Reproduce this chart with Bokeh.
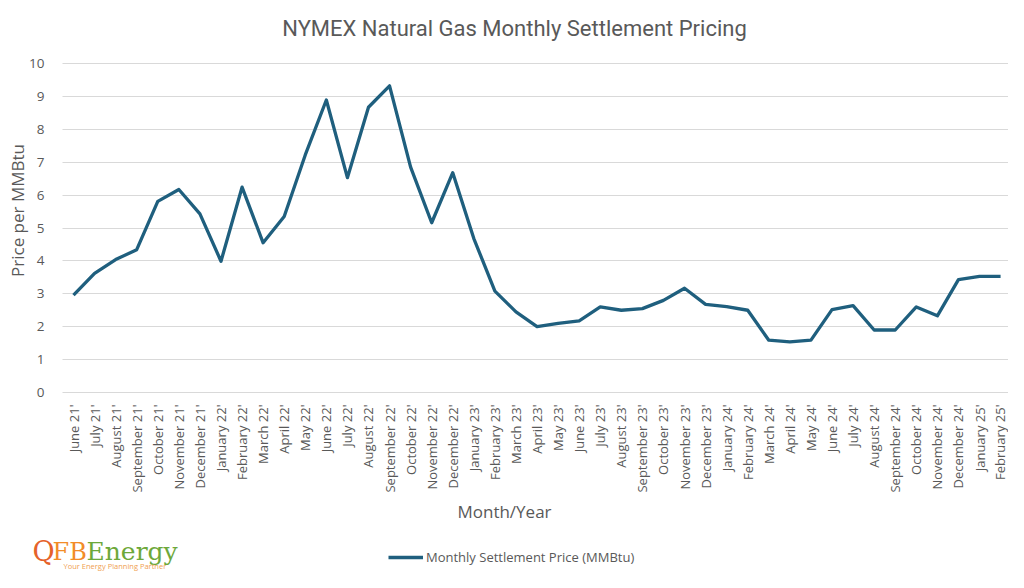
import math
from bokeh.plotting import figure
from bokeh.models import (Range1d, FixedTicker, Label, Legend, LegendItem, ColumnDataSource)
from bokeh.embed import file_html
from bokeh.resources import INLINE

months = ["June 21'", "July 21'", "August 21'", "September 21'", "October 21'", "November 21'",
          "December 21'", "January 22'", "February 22'", "March 22'", "April 22'", "May 22'",
          "June 22'", "July 22'", "August 22'", "September 22'", "October 22'", "November 22'",
          "December 22'", "January 23'", "February 23'", "March 23'", "April 23'", "May 23'",
          "June 23'", "July 23'", "August 23'", "September 23'", "October 23'", "November 23'",
          "December 23'", "January 24'", "February 24'", "March 24'", "April 24'", "May 24'",
          "June 24'", "July 24'", "August 24'", "September 24'", "October 24'", "November 24'",
          "December 24'", "January 25'", "February 25'"]

prices = [2.96, 3.62, 4.04, 4.34, 5.81, 6.17, 5.43, 3.99, 6.24, 4.55, 5.35, 7.22,
          8.89, 6.53, 8.67, 9.32, 6.85, 5.16, 6.68, 4.68, 3.08, 2.45, 2.00, 2.10,
          2.18, 2.60, 2.50, 2.55, 2.80, 3.17, 2.68, 2.61, 2.50, 1.59, 1.54, 1.59,
          2.52, 2.64, 1.90, 1.90, 2.60, 2.33, 3.43, 3.53, 3.53]

y_ticks = [0, 1, 2, 3, 4, 5, 6, 7, 8, 9, 10]

FONT = "Open Sans"
GRAY = "#595959"
LINE = "#1F5F7E"

W, H = 1008, 572
# plot area (pixels): left 62, top 63, value-0 line at 392; 21.07 px per month, 32.9 px per unit
PX_X, PX_Y = 21.07, 32.9
X0 = -73 / PX_X
Y0 = -(H - 392) / PX_Y
x_start, x_end = X0, X0 + W / PX_X
y_start, y_end = Y0, Y0 + H / PX_Y
plot_left = X0 + 62 / PX_X

idx = list(range(len(months)))
src = ColumnDataSource(data=dict(x=idx, y=prices, month=months))

p = figure(width=W, height=H, output_backend="svg", toolbar_location=None,
           x_range=Range1d(x_start, x_end), y_range=Range1d(y_start, y_end),
           min_border=0, min_border_left=0, min_border_right=0, min_border_top=0,
           min_border_bottom=0)
p.outline_line_color = None
p.background_fill_color = "white"
p.border_fill_color = "white"

r = p.line("x", "y", source=src, line_color=LINE, line_width=3.3, line_join="round")

# axes drawn at fixed positions inside the canvas
p.xaxis.fixed_location = 0
p.xaxis.ticker = FixedTicker(ticks=idx)
p.xaxis.major_label_overrides = {i: m for i, m in enumerate(months)}
p.xaxis.major_label_orientation = math.pi / 2
p.xaxis.major_label_text_font = FONT
p.xaxis.major_label_text_font_size = "13px"
p.xaxis.major_label_text_color = GRAY
p.xaxis.major_label_standoff = 6
p.xaxis.axis_line_color = None
p.xaxis.major_tick_line_color = None
p.xaxis.minor_tick_line_color = None
p.xaxis.axis_label = "Month/Year"
p.xaxis.axis_label_text_font = FONT
p.xaxis.axis_label_text_font_size = "17px"
p.xaxis.axis_label_text_font_style = "normal"
p.xaxis.axis_label_text_color = GRAY
p.xaxis.axis_label_standoff = 4

p.yaxis.fixed_location = plot_left
p.yaxis.ticker = FixedTicker(ticks=y_ticks)
p.yaxis.major_label_text_font = FONT
p.yaxis.major_label_text_font_size = "13.5px"
p.yaxis.major_label_text_color = GRAY
p.yaxis.major_label_standoff = 12
p.yaxis.axis_line_color = None
p.yaxis.major_tick_line_color = None
p.yaxis.minor_tick_line_color = None

p.xgrid.grid_line_color = None
p.ygrid.grid_line_color = "#D9D9D9"
p.ygrid.grid_line_width = 1.2
p.ygrid.cross_bounds = (plot_left, x_end)

# title and y-axis title (screen px from canvas left / bottom)
p.add_layout(Label(x=514, y=H - 28, x_units="screen", y_units="screen",
                   text="NYMEX Natural Gas Monthly Settlement Pricing",
                   text_font="Roboto", text_font_size="22px", text_color=GRAY,
                   text_align="center", text_baseline="middle"))
p.add_layout(Label(x=17, y=H - 210, x_units="screen", y_units="screen",
                   text="Price per MMBtu", angle=math.pi / 2,
                   text_font=FONT, text_font_size="17px", text_color=GRAY,
                   text_align="center", text_baseline="middle"))

# legend
legend = Legend(items=[LegendItem(label="Monthly Settlement Price (MMBtu)", renderers=[r])],
                location=(388, 5), orientation="horizontal",
                background_fill_alpha=0, border_line_alpha=0, padding=0, margin=0,
                glyph_width=35, glyph_height=20, label_standoff=3,
                label_text_font=FONT, label_text_font_size="13px", label_text_color=GRAY)
p.add_layout(legend)

# logo text
for t, xo, c, fs in [("Q", 32, "#E5622A", "27px"), ("FB", 52, "#F28C28", "24px"),
                     ("Energy", 86, "#6DA83A", "25px")]:
    p.add_layout(Label(x=xo, y=H - 551, x_units="screen", y_units="screen", text=t,
                       text_font="DejaVu Serif", text_font_size=fs, text_color=c,
                       text_baseline="middle"))
p.add_layout(Label(x=63, y=H - 565, x_units="screen", y_units="screen",
                   text="Your Energy Planning Partner",
                   text_font=FONT, text_font_size="7.5px", text_color="#F0A050",
                   text_baseline="middle"))

open("out.html", "w").write(file_html(p, INLINE))
